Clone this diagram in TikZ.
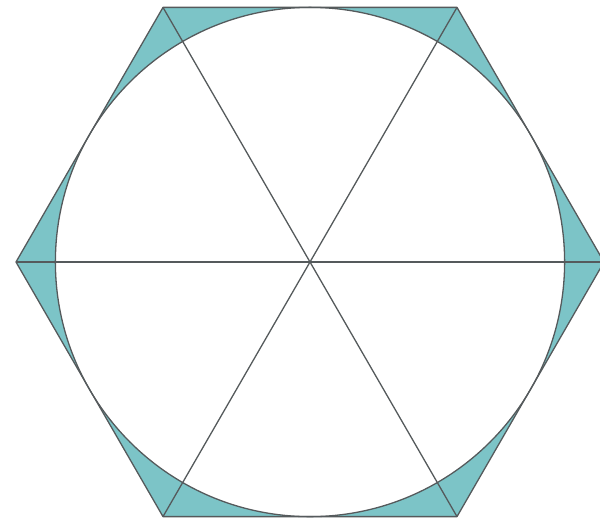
\documentclass[tikz,border=0pt]{standalone}
\usetikzlibrary{calc}
\definecolor{gapc}{RGB}{124,196,199}
\definecolor{linec}{RGB}{85,90,92}
\begin{document}
\begin{tikzpicture}[x=1pt,y=-1pt,
  edge/.style={draw=linec,line width=1.3pt,line join=round},
  gap/.style={fill=gapc,even odd rule}]
\useasboundingbox (0,0) rectangle (600,523);
\def\R{294}
\coordinate (O) at (310,262);
\foreach \a [count=\i] in {0,60,120,180,240,300}
  \coordinate (v\i) at ($(O)+(\a:\R)$);
\path[gap] (v1) -- (v2) -- (v3) -- (v4) -- (v5) -- (v6) -- cycle
  (O) circle[radius={0.8660254*\R}];
\draw[edge] (O) circle[radius={0.8660254*\R}];
\draw[edge] (v1) -- (v2) -- (v3) -- (v4) -- (v5) -- (v6) -- cycle;
\draw[edge] (v1) -- (v4);
\draw[edge] (v2) -- (v5);
\draw[edge] (v3) -- (v6);
\end{tikzpicture}
\end{document}
